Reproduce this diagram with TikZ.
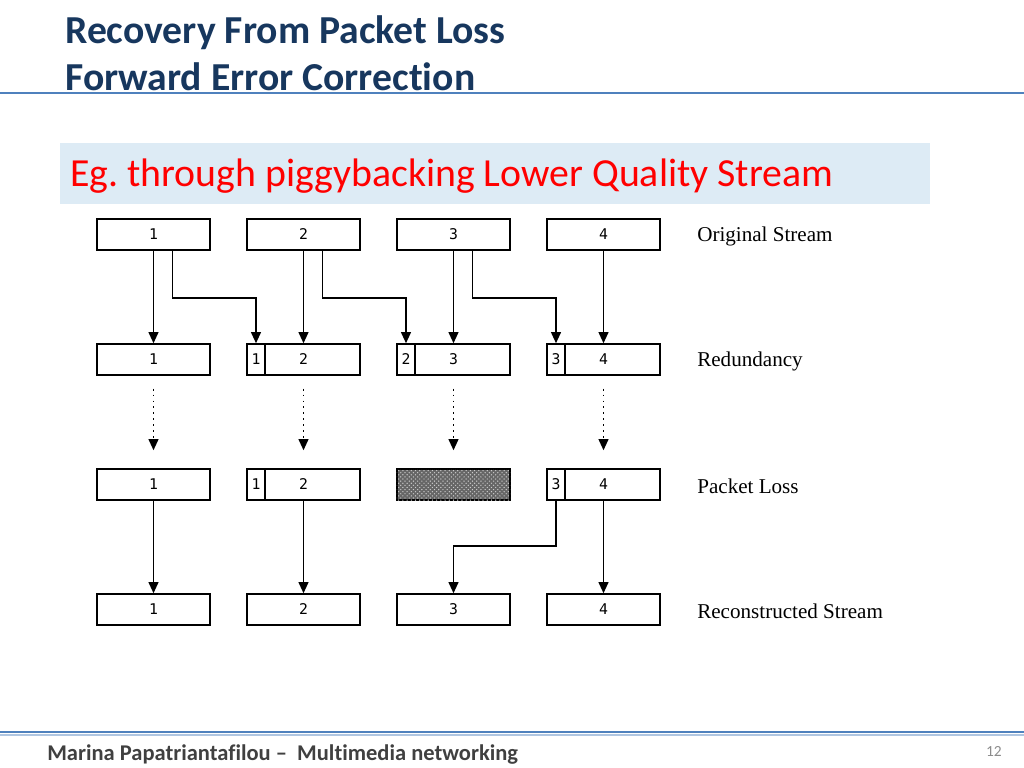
\documentclass[tikz,border=0pt]{standalone}
\usepackage{fontspec}
\setmainfont{Carlito}[Ligatures=NoCommon]
\newfontfamily\serifface{Liberation Serif}
\newfontfamily\digitface{DejaVu Sans Mono}
\usetikzlibrary{arrows.meta,patterns}

\definecolor{titleblue}{RGB}{23,55,94}
\definecolor{ruleblue}{RGB}{79,129,189}
\definecolor{paleblue}{RGB}{221,235,245}
\definecolor{footgrey}{RGB}{64,64,64}
\definecolor{pagegrey}{RGB}{140,140,140}

\tikzset{
  pkt/.style={draw,line width=1pt,minimum width=2.825cm,minimum height=0.775cm,
    inner sep=0pt,font=\digitface\fontsize{10.5}{11}\selectfont},
  tag/.style={pkt,minimum width=0.45cm},
  lost/.style={pkt,fill=black!60,postaction={pattern=crosshatch dots,pattern color=gray!40}},
  rowlabel/.style={anchor=west,inner sep=0pt,font=\serifface\fontsize{15}{18}\selectfont},
  arr/.style={line width=1.3pt,-{Triangle[width=7pt,length=8pt]}},
  dotarr/.style={arr,dash pattern=on 1.3pt off 2.9pt,shorten <=0.325cm,shorten >=0.45cm},
}

\begin{document}
\frenchspacing
\begin{tikzpicture}[x=0.025cm,y=-0.025cm]
    \useasboundingbox (0,0) rectangle (1024,768);

    % slide header
    \node[anchor=base west,inner sep=0pt,text=titleblue,font=\bfseries\fontsize{28.2}{32}\selectfont]
      (title1) at (65,44) {Recovery From Packet Loss};
    \node[anchor=base west,inner sep=0pt,text=titleblue,font=\bfseries\fontsize{28.2}{32}\selectfont]
      (title2) at (65,91) {Forward Error Correction};
    \draw[ruleblue,line width=2pt] (0,93) -- (1024,93);

    \fill[paleblue] (60,143) rectangle (930,204);
    \node[anchor=base west,inner sep=0pt,text=red,font=\fontsize{28.3}{32}\selectfont]
      (subtitle) at (70,186) {Eg. through piggybacking Lower Quality Stream};

    % original stream
    \node[pkt] (o1) at (153.5,234.5) {1};
    \node[pkt] (o2) at (303.5,234.5) {2};
    \node[pkt] (o3) at (453.5,234.5) {3};
    \node[pkt] (o4) at (603.5,234.5) {4};

    % redundancy
    \node[pkt] (r1) at (153.5,359.5) {1};
    \node[pkt] (r2) at (303.5,359.5) {2};
    \node[pkt] (r3) at (453.5,359.5) {3};
    \node[pkt] (r4) at (603.5,359.5) {4};
    \node[tag] (r2t) at (256,359.5) {1};
    \node[tag] (r3t) at (406,359.5) {2};
    \node[tag] (r4t) at (556,359.5) {3};

    % packet loss
    \node[pkt] (p1) at (153.5,484.5) {1};
    \node[pkt] (p2) at (303.5,484.5) {2};
    \node[lost] (p3) at (453.5,484.5) {};
    \node[pkt] (p4) at (603.5,484.5) {4};
    \node[tag] (p2t) at (256,484.5) {1};
    \node[tag] (p4t) at (556,484.5) {3};

    % reconstructed stream
    \node[pkt] (c1) at (153.5,609.5) {1};
    \node[pkt] (c2) at (303.5,609.5) {2};
    \node[pkt] (c3) at (453.5,609.5) {3};
    \node[pkt] (c4) at (603.5,609.5) {4};

    \node[rowlabel] (lorig) at (697,236) {Original Stream};
    \node[rowlabel] (lred) at (697,361) {Redundancy};
    \node[rowlabel] (lloss) at (697,486) {Packet Loss};
    \node[rowlabel] (lrec) at (697,611) {Reconstructed Stream};

    % copies into the next packet
    \draw[arr] (o1) -- (r1);
    \draw[arr] (o2) -- (r2);
    \draw[arr] (o3) -- (r3);
    \draw[arr] (o4) -- (r4);
    \draw[arr] ([xshift=0.475cm]o1.south) -- ++(0,47) -| (r2t.north);
    \draw[arr] ([xshift=0.475cm]o2.south) -- ++(0,47) -| (r3t.north);
    \draw[arr] ([xshift=0.475cm]o3.south) -- ++(0,47) -| (r4t.north);

    % network
    \draw[dotarr] (r1.south) -- (p1.north);
    \draw[dotarr] (r2.south) -- (p2.north);
    \draw[dotarr] (r3.south) -- (p3.north);
    \draw[dotarr] (r4.south) -- (p4.north);

    % recovery
    \draw[arr] (p1) -- (c1);
    \draw[arr] (p2) -- (c2);
    \draw[arr] (p4) -- (c4);
    \draw[arr] (p4t.south) -- ++(0,45) -| (c3.north);

    % footer
    \draw[ruleblue,line width=1.8pt] (0,732) -- (1024,732);
    \draw[ruleblue!45,line width=1pt] (0,735) -- (1024,735);
    \node[anchor=base west,inner sep=0pt,text=footgrey,font=\bfseries\fontsize{16}{18}\selectfont]
      (footer) at (47,760) {Marina Papatriantafilou --\ \ Multimedia networking};
    \node[anchor=base east,inner sep=0pt,text=pagegrey,font=\fontsize{11}{13}\selectfont]
      (pageno) at (1002,756) {12};
\end{tikzpicture}
\end{document}
